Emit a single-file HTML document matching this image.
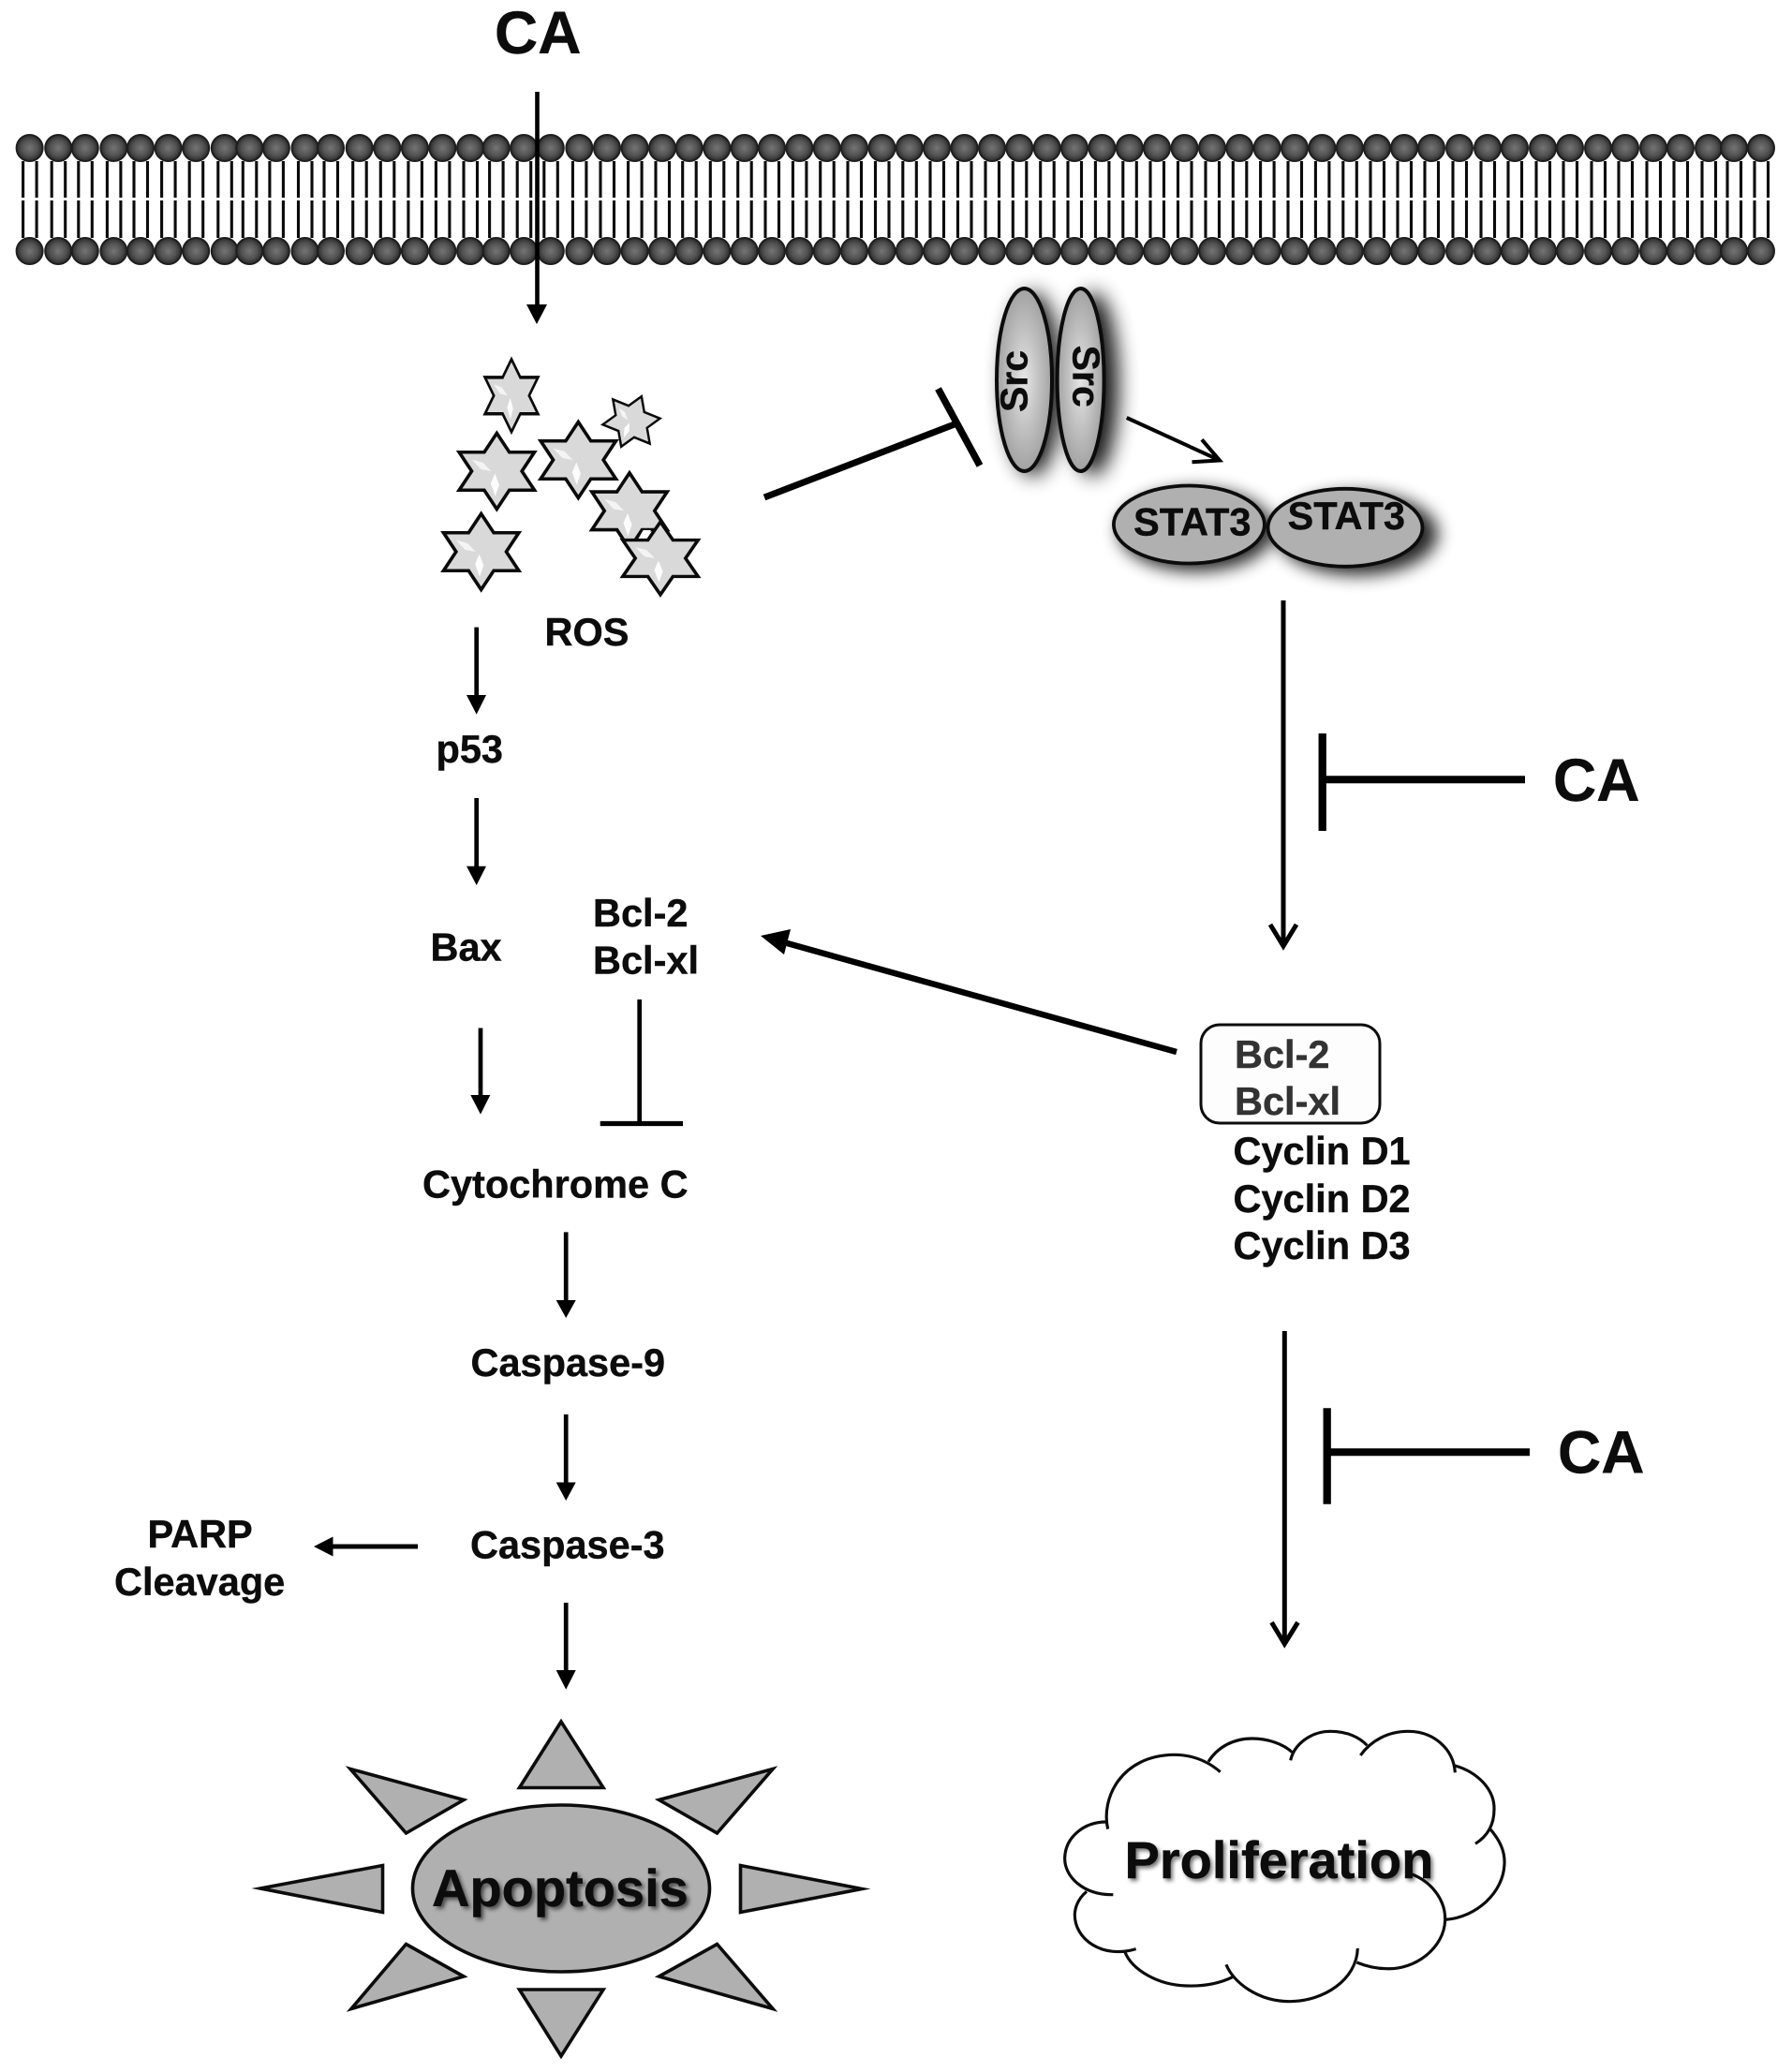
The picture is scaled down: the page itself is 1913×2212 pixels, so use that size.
<!DOCTYPE html>
<html>
<head>
<meta charset="utf-8">
<style>
html,body{margin:0;padding:0;background:#fff;}
svg{display:block;}
text{font-family:"Liberation Sans",Arial,sans-serif;font-weight:bold;fill:#0c0c0c;stroke:#0c0c0c;stroke-width:.4px;}
.t{font-size:41.5px;}
.ca{font-size:64px;}
.big{font-size:56px;}
</style>
</head>
<body>
<svg xmlns="http://www.w3.org/2000/svg" width="1913" height="2212" viewBox="0 0 1913 2212">
<defs>
<radialGradient id="hd"><stop offset="0" stop-color="#747474"/><stop offset=".6" stop-color="#525252"/><stop offset="1" stop-color="#2a2a2a"/></radialGradient>
<radialGradient id="src"><stop offset="0" stop-color="#e6e6e6"/><stop offset=".55" stop-color="#c0c0c0"/><stop offset="1" stop-color="#a2a2a2"/></radialGradient>
<filter id="b1" x="-80%" y="-30%" width="260%" height="160%"><feGaussianBlur stdDeviation="11"/></filter>
<filter id="b2" x="-30%" y="-60%" width="160%" height="220%"><feGaussianBlur stdDeviation="9"/></filter>
<filter id="ts" x="-10%" y="-30%" width="120%" height="160%"><feGaussianBlur stdDeviation="2.2"/></filter>
<g id="c">
<path d="M-7 172V211M7.5 172V211M-7 214V254M7.5 214V254" stroke="#0a0a0a" stroke-width="3.1" fill="none"/>
<circle cx="0" cy="158" r="14" fill="url(#hd)" stroke="#1e1e1e" stroke-width="2"/>
<circle cx="0" cy="268" r="14" fill="url(#hd)" stroke="#1e1e1e" stroke-width="2"/>
</g>
<polygon id="s" points="0,-124 41,-62 123,-62 82,0 123,62 41,62 0,124 -41,62 -123,62 -82,0 -123,-62 -41,-62" fill="#d9d9d9" stroke="#0a0a0a" stroke-width="11"/>
<g id="h" fill="#fff">
<polygon points="-82,-38 -45,-28 -18,0 -52,-6" opacity=".7"/>
<polygon points="-6,8 -20,40 -5,82 8,45" opacity=".9"/>
</g>
</defs>

<!-- membrane -->
<g>
<use href="#c" x="31.6"/><use href="#c" x="62.2"/><use href="#c" x="90.8"/><use href="#c" x="121.4"/><use href="#c" x="150"/><use href="#c" x="179.6"/><use href="#c" x="209.2"/><use href="#c" x="239.8"/><use href="#c" x="266.3"/><use href="#c" x="294.9"/><use href="#c" x="325.5"/><use href="#c" x="353"/><use href="#c" x="383.7"/><use href="#c" x="413.3"/><use href="#c" x="442.9"/><use href="#c" x="472.4"/><use href="#c" x="502"/><use href="#c" x="529.6"/><use href="#c" x="559.2"/><use href="#c" x="587.8"/><use href="#c" x="618.4"/><use href="#c" x="648"/><use href="#c" x="677.6"/><use href="#c" x="707"/><use href="#c" x="735.7"/><use href="#c" x="765.3"/><use href="#c" x="794.7"/><use href="#c" x="824"/><use href="#c" x="853.4"/><use href="#c" x="882.7"/><use href="#c" x="912"/><use href="#c" x="941.5"/><use href="#c" x="970.8"/><use href="#c" x="1000"/><use href="#c" x="1029.5"/><use href="#c" x="1059"/><use href="#c" x="1088.3"/><use href="#c" x="1117.7"/><use href="#c" x="1147"/><use href="#c" x="1176.4"/><use href="#c" x="1205.8"/><use href="#c" x="1235"/><use href="#c" x="1264.5"/><use href="#c" x="1294"/><use href="#c" x="1323.3"/><use href="#c" x="1352.6"/><use href="#c" x="1382"/><use href="#c" x="1411.4"/><use href="#c" x="1440.8"/><use href="#c" x="1470"/><use href="#c" x="1499"/><use href="#c" x="1528"/><use href="#c" x="1558"/><use href="#c" x="1588"/><use href="#c" x="1617"/><use href="#c" x="1647"/><use href="#c" x="1676"/><use href="#c" x="1706"/><use href="#c" x="1735"/><use href="#c" x="1765"/><use href="#c" x="1794"/><use href="#c" x="1824"/><use href="#c" x="1851"/><use href="#c" x="1880"/>
</g>

<text class="ca" x="528" y="57">CA</text>
<path d="M573.5 98V327" stroke="#000" stroke-width="4.6"/>
<polygon points="562,325 584,325 573,346" fill="#000"/>

<!-- stars -->
<g transform="translate(440 360) scale(.33333)">
<g transform="translate(318 187) scale(.69 .94)"><use href="#s"/><use href="#h"/></g>
<g transform="translate(702 270) rotate(22) scale(.66 .7)"><use href="#s"/><use href="#h"/></g>
<g transform="translate(271 429) scale(.98 .98)"><use href="#s"/><use href="#h"/></g>
<g transform="translate(532 393) scale(.98 .98)"><use href="#s"/><use href="#h"/></g>
<g transform="translate(696 556) scale(.98 .98)"><use href="#s"/><use href="#h"/></g>
<g transform="translate(795 708) scale(.98 .94)"><use href="#s"/><use href="#h"/></g>
<g transform="translate(221 687) scale(.98 .98)"><use href="#s"/><use href="#h"/></g>
<polygon points="730,635 740,618 765,618 752,636" fill="#fff"/>
</g>

<text class="t" x="581.5" y="689">ROS</text>

<!-- T to Src -->
<path d="M816 531L1019 453" stroke="#000" stroke-width="7"/>
<path d="M1001.5 415L1046 497" stroke="#000" stroke-width="7.5"/>

<!-- Src -->
<g fill="#000" opacity=".9" filter="url(#b1)">
<ellipse cx="1103" cy="410" rx="30" ry="98"/>
<ellipse cx="1167" cy="410" rx="27" ry="98"/>
</g>
<ellipse cx="1093.5" cy="405.5" rx="29.5" ry="97.5" fill="url(#src)" stroke="#0c0c0c" stroke-width="4"/>
<ellipse cx="1153.6" cy="405.5" rx="25" ry="97.5" fill="url(#src)" stroke="#0c0c0c" stroke-width="4"/>
<text x="0" y="0" font-size="41" text-anchor="middle" transform="translate(1096.5 407) rotate(-90)">Src</text>
<text x="0" y="0" font-size="41" text-anchor="middle" transform="translate(1145.5 401.7) rotate(90)">Src</text>

<path d="M1202.8 446L1300 490.5" stroke="#000" stroke-width="4" fill="none"/>
<path d="M1283 469.3L1302 491.5L1272.5 493.3" stroke="#000" stroke-width="4" fill="none"/>

<!-- STAT3 -->
<g fill="#000" opacity=".85" filter="url(#b2)">
<ellipse cx="1277" cy="566" rx="83" ry="44"/>
<ellipse cx="1449" cy="570" rx="86" ry="44"/>
</g>
<ellipse cx="1269.4" cy="560" rx="80.5" ry="41.5" fill="#b0b0b0" stroke="#0c0c0c" stroke-width="3.8"/>
<ellipse cx="1436" cy="563.3" rx="82.5" ry="41.5" fill="#b0b0b0" stroke="#0c0c0c" stroke-width="3.8"/>
<text font-size="41.6" x="1210" y="571.7">STAT3</text>
<text font-size="41.6" x="1374.5" y="565">STAT3</text>

<!-- right pathway 1 -->
<path d="M1370 641V1011" stroke="#000" stroke-width="5"/>
<path d="M1356 987L1370 1010L1384 987" stroke="#000" stroke-width="5" fill="none"/>
<path d="M1411.7 783V887" stroke="#000" stroke-width="8.3"/>
<path d="M1411 832.3H1628" stroke="#000" stroke-width="8"/>
<text class="ca" x="1658" y="855">CA</text>

<!-- box -->
<rect x="1282" y="1094" width="191" height="105" rx="20" ry="20" fill="#fdfdfd" stroke="#0c0c0c" stroke-width="3"/>
<text class="t" x="1318" y="1140" style="fill:#333;stroke:#333">Bcl-2</text>
<text class="t" x="1318" y="1190" style="fill:#333;stroke:#333">Bcl-xl</text>
<text class="t" x="1316.5" y="1243">Cyclin D1</text>
<text class="t" x="1316.5" y="1294">Cyclin D2</text>
<text class="t" x="1316.5" y="1344">Cyclin D3</text>

<!-- bold arrow -->
<path d="M1256 1123L835 1005.5" stroke="#000" stroke-width="6.5"/>
<polygon points="812,999 844,992 837,1019" fill="#000"/>

<!-- right pathway 2 -->
<path d="M1371.3 1421V1755" stroke="#000" stroke-width="5"/>
<path d="M1357.5 1732L1371.3 1755L1385.5 1732" stroke="#000" stroke-width="5" fill="none"/>
<path d="M1416.7 1503.3V1605.7" stroke="#000" stroke-width="8.3"/>
<path d="M1416 1550.3H1633" stroke="#000" stroke-width="8"/>
<text class="ca" x="1663" y="1572.7">CA</text>

<!-- left column -->
<path d="M508.7 669.6V744" stroke="#000" stroke-width="4.7"/>
<polygon points="498,742 519,742 508.7,762.6" fill="#000"/>
<text class="t" x="465.5" y="814">p53</text>
<path d="M508.7 852V926" stroke="#000" stroke-width="4.7"/>
<polygon points="498,924.7 519,924.7 508.7,945" fill="#000"/>
<text class="t" x="459.5" y="1025.5">Bax</text>
<text class="t" x="633" y="989">Bcl-2</text>
<text class="t" x="633" y="1039.4">Bcl-xl</text>
<path d="M513 1097.5V1171" stroke="#000" stroke-width="4.7"/>
<polygon points="502.3,1169 523.3,1169 513,1189.6" fill="#000"/>
<path d="M682.7 1067V1199" stroke="#000" stroke-width="4.7"/>
<path d="M640.7 1199.5H729" stroke="#000" stroke-width="5.2"/>
<text class="t" x="451" y="1278.6">Cytochrome C</text>
<path d="M604.2 1315.4V1390" stroke="#000" stroke-width="4.7"/>
<polygon points="593.7,1388 614.7,1388 604.2,1407" fill="#000"/>
<text class="t" x="502.5" y="1469">Caspase-9</text>
<path d="M604.2 1510V1584" stroke="#000" stroke-width="4.7"/>
<polygon points="593.7,1582.5 614.7,1582.5 604.2,1602" fill="#000"/>
<text class="t" x="502" y="1663.6">Caspase-3</text>
<path d="M604.2 1711V1785" stroke="#000" stroke-width="4.7"/>
<polygon points="593.7,1783 614.7,1783 604.2,1803.6" fill="#000"/>
<text class="t" x="157.5" y="1652">PARP</text>
<text class="t" x="122" y="1703">Cleavage</text>
<path d="M446 1651H354" stroke="#000" stroke-width="5"/>
<polygon points="335,1651 355.5,1640.5 355.5,1661.5" fill="#000"/>

<!-- apoptosis -->
<g fill="#b0b0b0" stroke="#0c0c0c" stroke-width="3.6" stroke-linejoin="miter" stroke-miterlimit="10">
<polygon points="599,1838 554.5,1908.5 644,1908.5"/>
<polygon points="599,2195 554.5,2124 644,2124"/>
<polygon points="278,2016 408.5,1991.5 408.5,2041.5"/>
<polygon points="920,2016.5 790.5,1991.5 790.5,2041.5"/>
<polygon points="374,1888.5 495,1921.5 433.5,1957"/>
<polygon points="825,1888.5 703.5,1921.5 765.5,1957"/>
<polygon points="433.5,2075.5 495,2110 375,2144.5"/>
<polygon points="765.5,2075.5 703.5,2110 825,2144.5"/>
</g>
<ellipse cx="599" cy="2016" rx="158.5" ry="89" fill="#b0b0b0" stroke="#0c0c0c" stroke-width="3.6"/>
<text class="big" x="464" y="2038" style="fill:#333;stroke:none" opacity=".8" filter="url(#ts)">Apoptosis</text>
<text class="big" x="461" y="2035">Apoptosis</text>

<!-- proliferation -->
<text class="big" x="1203" y="2008" style="fill:#444;stroke:none" opacity=".75" filter="url(#ts)">Proliferation</text>
<text class="big" x="1200.5" y="2005">Proliferation</text>
<g transform="translate(1110 1840) scale(.33333)" fill="none" stroke="#0c0c0c" stroke-width="9.5" stroke-linecap="butt">
<path d="M218 338C195 240 260 102 430 100C490 100 540 122 578 155"/>
<path d="M540 122C570 75 620 48 680 48C730 48 780 65 808 92"/>
<path d="M803 118C815 65 870 25 930 25C985 25 1025 45 1048 70"/>
<path d="M1027 102C1060 55 1115 25 1180 25C1260 25 1325 80 1330 157"/>
<path d="M1330 135C1400 155 1457 210 1455 275C1455 325 1435 360 1395 385"/>
<path d="M1440 335C1475 375 1490 410 1488 450C1485 540 1400 620 1300 628"/>
<path d="M1193 483C1260 510 1300 570 1298 630C1295 720 1200 790 1110 785C1075 785 1040 775 1015 765"/>
<path d="M1018 720C1015 820 910 890 800 890C700 890 620 830 597 772"/>
<path d="M617 812C580 830 530 842 470 840C380 838 295 790 272 730"/>
<path d="M308 722C200 755 110 690 112 610C114 580 130 555 150 538"/>
<path d="M235 548C140 550 78 490 80 430C82 365 140 315 213 315"/>
</g>
</svg>
</body>
</html>
